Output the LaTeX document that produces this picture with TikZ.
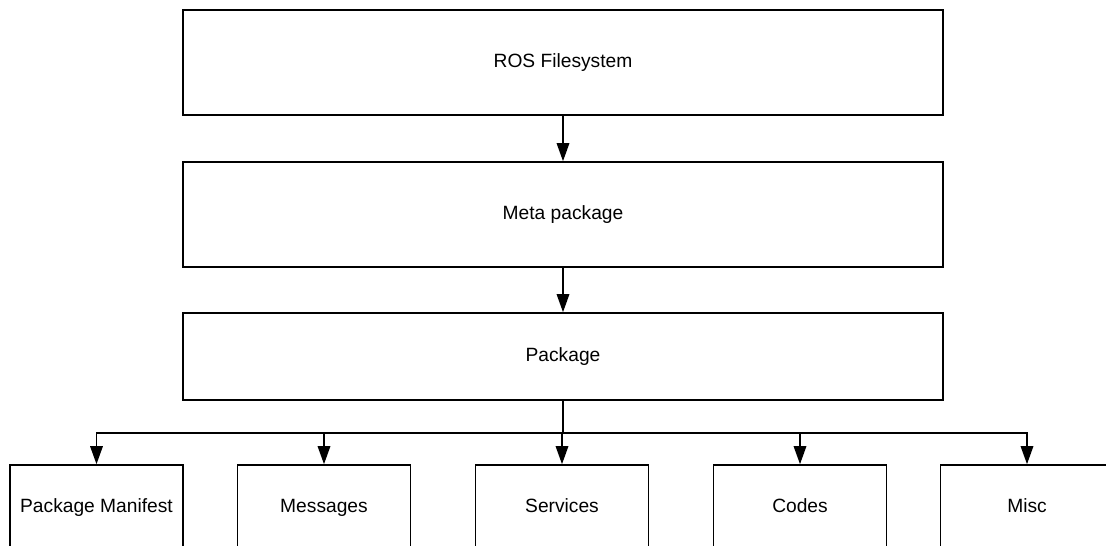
\documentclass[tikz,border=0pt]{standalone}
\usepackage{fontspec}
\setmainfont{Liberation Sans}
\usetikzlibrary{arrows.meta}
\begin{document}
\begin{tikzpicture}[x=1bp,y=-1bp,
  txt/.style={font=\fontsize{19.2bp}{23bp}\selectfont, text height=1.03em, text depth=0em},
  bigbox/.style={txt, draw=black, line width=1.6bp, minimum width=760bp, inner sep=0pt},
  smallbox/.style={txt, draw=black, line width=1.6bp, minimum width=173bp, minimum height=84bp, inner sep=0pt},
  arr/.style={line width=1.6bp, -{Triangle[length=18bp,width=12.5bp]}},
  ln/.style={line width=1.6bp}]
\useasboundingbox (0,0) rectangle (1106,546);
\clip (0,0) rectangle (1106,546);
\node[bigbox, minimum height=105bp] (ros) at (563,62.5) {ROS Filesystem};
\node[bigbox, minimum height=105bp] (meta) at (563,214.5) {Meta package};
\node[bigbox, minimum height=87bp] (pkg) at (563,356.5) {Package};
\node[smallbox] (man) at (96.5,507) {Package Manifest};
\node[smallbox] (msg) at (324,507) {Messages};
\node[smallbox] (srv) at (562,507) {Services};
\node[smallbox] (cod) at (800,507) {Codes};
\node[smallbox] (misc) at (1027,507) {Misc};
\draw[arr] (ros) -- (meta);
\draw[arr] (meta) -- (pkg);
\coordinate (bus) at (563,433);
\draw[ln] (pkg.south) -- (bus);
\draw[arr] (bus) -| (man.north);
\draw[arr] (bus) -| (msg.north);
\draw[arr] (bus) -| (srv.north);
\draw[arr] (bus) -| (cod.north);
\draw[arr] (bus) -| (misc.north);
\end{tikzpicture}
\end{document}
